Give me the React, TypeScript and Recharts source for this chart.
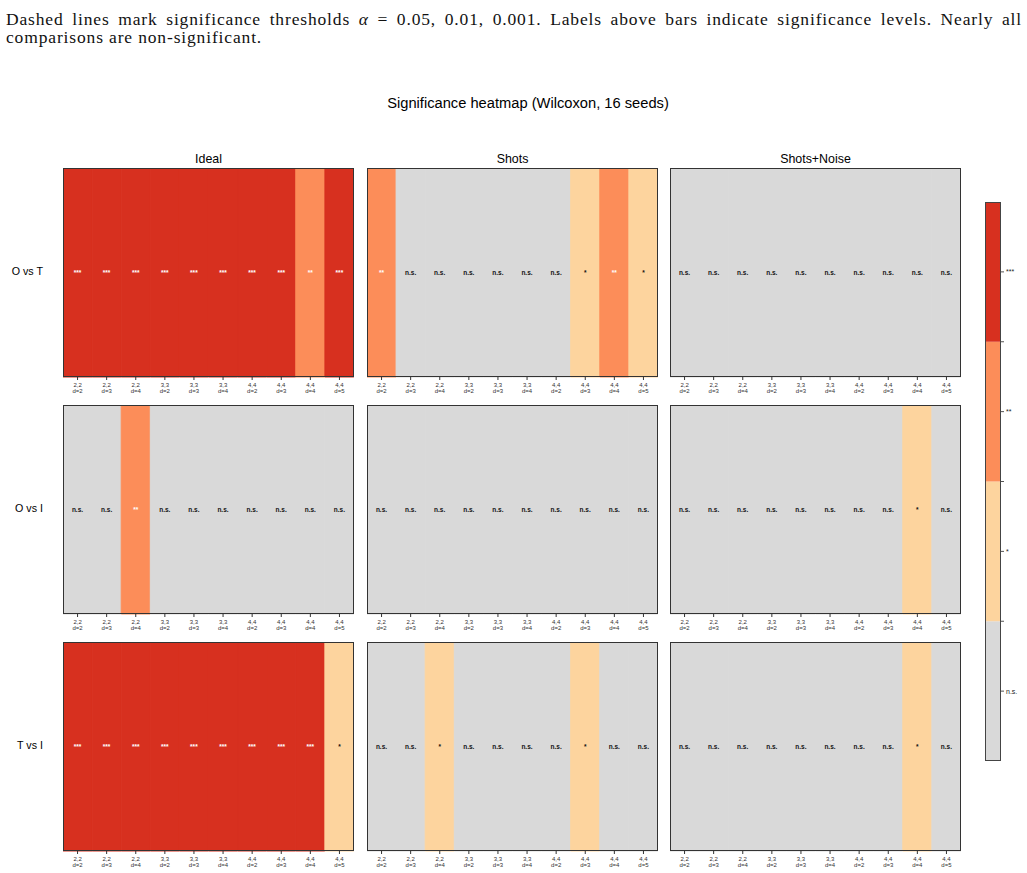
import React from 'react';
import { BarChart, Bar, XAxis, YAxis, Cell, LabelList } from 'recharts';

// Hyperparameter configurations on the x axis (qubits "a,b" and depth "d=")
const CONFIGS = ['2,2', '2,2', '2,2', '3,3', '3,3', '3,3', '4,4', '4,4', '4,4', '4,4'];
const DEPTHS = ['d=2', 'd=3', 'd=4', 'd=2', 'd=3', 'd=4', 'd=2', 'd=3', 'd=4', 'd=5'];

const SETTINGS = ['Ideal', 'Shots', 'Shots+Noise'];
const COMPARISONS = ['O vs T', 'O vs I', 'T vs I'];

// Significance levels: 0 = n.s., 1 = *, 2 = **, 3 = ***
const LEVEL_LABELS = ['n.s.', '*', '**', '***'];
const LEVEL_COLORS = ['#d9d9d9', '#fdd49e', '#fc8d59', '#d7301f'];
const LEVEL_TEXT = ['#111111', '#111111', '#ffffff', '#ffffff'];

const oVsT_ideal = [3, 3, 3, 3, 3, 3, 3, 3, 2, 3];
const oVsT_shots = [2, 0, 0, 0, 0, 0, 0, 1, 2, 1];
const oVsT_noise = [0, 0, 0, 0, 0, 0, 0, 0, 0, 0];

const oVsI_ideal = [0, 0, 2, 0, 0, 0, 0, 0, 0, 0];
const oVsI_shots = [0, 0, 0, 0, 0, 0, 0, 0, 0, 0];
const oVsI_noise = [0, 0, 0, 0, 0, 0, 0, 0, 1, 0];

const tVsI_ideal = [3, 3, 3, 3, 3, 3, 3, 3, 3, 1];
const tVsI_shots = [0, 0, 1, 0, 0, 0, 0, 1, 0, 0];
const tVsI_noise = [0, 0, 0, 0, 0, 0, 0, 0, 1, 0];

const GRID = [
  [oVsT_ideal, oVsT_shots, oVsT_noise],
  [oVsI_ideal, oVsI_shots, oVsI_noise],
  [tVsI_ideal, tVsI_shots, tVsI_noise],
];

const FONT = '"Liberation Sans", Arial, Helvetica, sans-serif';

const PANEL_LEFT = [63, 367, 670];
const PANEL_TOP = [168, 405, 642];
const PANEL_W = 291;
const PANEL_H = 209;
const AXIS_H = 26;

const CB_LEFT = 985;
const CB_TOP = 202;
const CB_W = 16;
const CB_H = 559;

function ConfigTick(props: any) {
  const { x, y, payload } = props;
  const i = payload.index;
  return (
    <text x={x} y={y} textAnchor="middle" fontSize={6} fill="#333" fontFamily={FONT}>
      <tspan x={x} dy={5}>{CONFIGS[i]}</tspan>
      <tspan x={x} dy={6}>{DEPTHS[i]}</tspan>
    </text>
  );
}

function LevelLabel(props: any) {
  const { x, y, width, height, index, levels } = props;
  const lv = levels[index];
  return (
    <text
      x={x + width / 2}
      y={y + height / 2}
      textAnchor="middle"
      dominantBaseline="central"
      fontSize={6.5}
      fontWeight="bold"
      fill={LEVEL_TEXT[lv]}
      fontFamily={FONT}
    >
      {LEVEL_LABELS[lv]}
    </text>
  );
}

function Panel({ levels, left, top }: { levels: number[]; left: number; top: number }) {
  const data = levels.map((lv, i) => ({ key: `${CONFIGS[i]} ${DEPTHS[i]}`, idx: i, cell: 1, level: lv }));
  return (
    <>
      <div style={{ position: 'absolute', left, top }}>
        <BarChart
          width={PANEL_W}
          height={PANEL_H + AXIS_H}
          data={data}
          margin={{ top: 0, right: 0, bottom: 0, left: 0 }}
          barCategoryGap={0}
        >
          <XAxis
            dataKey="key"
            height={AXIS_H}
            axisLine={false}
            tickLine={{ stroke: '#333' }}
            tickSize={3}
            interval={0}
            tick={<ConfigTick />}
          />
          <YAxis hide domain={[0, 1]} />
          <Bar dataKey="cell" isAnimationActive={false}>
            {data.map((d, i) => (
              <Cell key={i} fill={LEVEL_COLORS[d.level]} stroke={LEVEL_COLORS[d.level]} strokeWidth={1} />
            ))}
            <LabelList dataKey="level" content={(p: any) => <LevelLabel {...p} levels={levels} />} />
          </Bar>
        </BarChart>
      </div>
      <div
        style={{
          position: 'absolute',
          left,
          top,
          width: PANEL_W,
          height: PANEL_H,
          border: '1px solid #333',
          boxSizing: 'border-box',
          pointerEvents: 'none',
        }}
      />
    </>
  );
}

const CB_DATA = [{ name: 'levels', l0: 1, l1: 1, l2: 1, l3: 1 }];
const CB_TICKS = [0.5, 1, 1.5, 2, 2.5, 3, 3.5];

function ColorBar() {
  return (
    <>
      <div style={{ position: 'absolute', left: CB_LEFT, top: CB_TOP }}>
        <BarChart
          width={CB_W + 26}
          height={CB_H}
          data={CB_DATA}
          margin={{ top: 0, right: 0, bottom: 0, left: 0 }}
          barCategoryGap={0}
        >
          <XAxis dataKey="name" hide />
          <YAxis
            orientation="right"
            width={26}
            domain={[0, 4]}
            ticks={CB_TICKS}
            interval={0}
            axisLine={false}
            tickLine={{ stroke: '#555' }}
            tickSize={3}
            tick={{ fontSize: 7, fill: '#222', fontFamily: FONT }}
            tickFormatter={(v: number) => (Number.isInteger(v) ? '' : LEVEL_LABELS[Math.floor(v)])}
          />
          {LEVEL_COLORS.map((c, i) => (
            <Bar key={i} dataKey={`l${i}`} stackId="cb" fill={c} isAnimationActive={false} />
          ))}
        </BarChart>
      </div>
      <div
        style={{
          position: 'absolute',
          left: CB_LEFT,
          top: CB_TOP,
          width: CB_W,
          height: CB_H,
          border: '1px solid #444',
          boxSizing: 'border-box',
          pointerEvents: 'none',
        }}
      />
    </>
  );
}

const captionStyle: React.CSSProperties = {
  position: 'absolute',
  left: 6,
  width: 1016,
  fontFamily: '"Liberation Serif", "DejaVu Serif", serif',
  fontSize: 17.5,
  lineHeight: '18px',
  letterSpacing: 0.85,
  color: '#111',
  whiteSpace: 'nowrap',
};

export default function App() {
  return (
    <div
      style={{
        position: 'absolute',
        left: 0,
        top: 0,
        width: 1027,
        height: 873,
        overflow: 'hidden',
        background: '#fff',
        fontFamily: FONT,
      }}
    >
      <div style={{ ...captionStyle, top: 10, textAlign: 'justify', textAlignLast: 'justify', whiteSpace: 'normal' }}>
        Dashed lines mark significance thresholds <i>α</i> = 0.05, 0.01, 0.001. Labels above bars indicate significance levels. Nearly all
      </div>
      <div style={{ ...captionStyle, top: 28 }}>comparisons are non-significant.</div>

      <div
        style={{
          position: 'absolute',
          left: 0,
          width: 1056,
          top: 95,
          textAlign: 'center',
          fontSize: 14.7,
          color: '#000',
        }}
      >
        Significance heatmap (Wilcoxon, 16 seeds)
      </div>

      {SETTINGS.map((s, c) => (
        <div
          key={s}
          style={{
            position: 'absolute',
            left: PANEL_LEFT[c],
            width: PANEL_W,
            top: 152,
            textAlign: 'center',
            fontSize: 12.4,
            color: '#000',
          }}
        >
          {s}
        </div>
      ))}

      {COMPARISONS.map((name, r) => (
        <div
          key={name}
          style={{
            position: 'absolute',
            left: 0,
            width: 43,
            top: PANEL_TOP[r] + PANEL_H / 2 - 7.5,
            textAlign: 'right',
            fontSize: 10.7,
            color: '#000',
          }}
        >
          {name}
        </div>
      ))}

      {GRID.map((row, r) =>
        row.map((levels, c) => (
          <Panel key={`${r}-${c}`} levels={levels} left={PANEL_LEFT[c]} top={PANEL_TOP[r]} />
        ))
      )}

      <ColorBar />
    </div>
  );
}
